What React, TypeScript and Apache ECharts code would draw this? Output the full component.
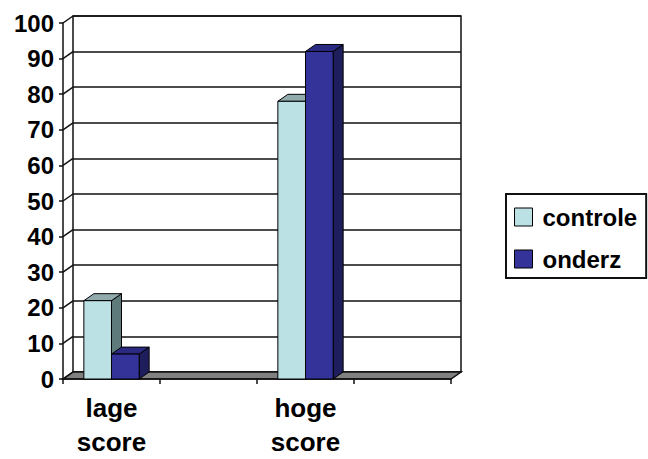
import React, { useEffect, useRef } from "react";
import * as echarts from "echarts";

// Categories along the floor (two empty slots, as in the sheet layout)
const categories = ["lage\nscore", "", "hoge\nscore", ""];
const seriesNames = ["controle", "onderz"];
const controleValues: (number | null)[] = [22, null, 78, null];
const onderzValues: (number | null)[] = [7, null, 92, null];
const yTicks = [0, 10, 20, 30, 40, 50, 60, 70, 80, 90, 100];

// depth offset of the pseudo-3D walls and columns
const DX = 10;
const DY = -7;

const FONT = "'Liberation Sans', Arial, Helvetica, sans-serif";

const palette = {
  controle: { front: "#BCE1E5", top: "#91ABAC", side: "#5F7A7B" },
  onderz: { front: "#333399", top: "#2A2A82", side: "#1E1E5C" },
};

function toPairs(values: (number | null)[]) {
  return values
    .map((v, i) => (v === null ? null : [i, v]))
    .filter((d) => d !== null) as number[][];
}

function columnRenderer(slot: number, colors: { front: string; top: string; side: string }) {
  return (params: any, api: any) => {
    const cat = api.value(0);
    const val = api.value(1);
    const top = api.coord([cat, val]);
    const base = api.coord([cat, 0]);
    const band = api.size([1, 0])[0];
    const w = band * 0.285;
    const x0 = top[0] - w + slot * w;
    const x1 = x0 + w;
    const ty = top[1];
    const by = base[1];
    const stroke = { stroke: "#000", lineWidth: 1 };
    return {
      type: "group",
      children: [
        {
          type: "polygon",
          shape: { points: [[x1, ty], [x1 + DX, ty + DY], [x1 + DX, by + DY], [x1, by]] },
          style: { fill: colors.side, ...stroke },
        },
        {
          type: "polygon",
          shape: { points: [[x0, ty], [x1, ty], [x1 + DX, ty + DY], [x0 + DX, ty + DY]] },
          style: { fill: colors.top, ...stroke },
        },
        {
          type: "rect",
          shape: { x: x0, y: ty, width: w, height: by - ty },
          style: { fill: colors.front, ...stroke },
        },
      ],
    };
  };
}

// floor slab and the diagonal ticks of the left wall
function frameRenderer(params: any, api: any) {
  const cs = params.coordSys;
  const left = cs.x;
  const right = cs.x + cs.width;
  const bottom = cs.y + cs.height;
  const children: any[] = [
    {
      type: "polygon",
      shape: {
        points: [
          [left, bottom],
          [right, bottom],
          [right + DX, bottom + DY],
          [left + DX, bottom + DY],
        ],
      },
      style: { fill: "#808080", stroke: "#111", lineWidth: 1.5 },
    },
  ];
  yTicks.forEach((v) => {
    const y = api.coord([0, v])[1];
    children.push({
      type: "line",
      shape: { x1: left, y1: y, x2: left + DX, y2: y + DY },
      style: { stroke: "#111", lineWidth: 1.5 },
    });
  });
  return { type: "group", children };
}

export default function App() {
  const ref = useRef<HTMLDivElement>(null);

  useEffect(() => {
    if (!ref.current) return;
    const chart = echarts.init(ref.current, undefined, { renderer: "svg" });
    chart.setOption({
      animation: false,
      backgroundColor: "#fff",
      grid: [
        { left: 63, right: 197, top: 23, bottom: 80, outerBoundsMode: "none" },
        {
          left: 73,
          right: 187,
          top: 16,
          bottom: 87,
          outerBoundsMode: "none",
          show: true,
          borderColor: "#111",
          borderWidth: 1.5,
          backgroundColor: "#fff",
        },
      ],
      xAxis: [
        {
          type: "category",
          gridIndex: 0,
          data: categories,
          axisLine: { show: true, lineStyle: { color: "#111", width: 1.5 } },
          axisTick: { show: true, length: 5, lineStyle: { color: "#111", width: 1.5 } },
          axisLabel: {
            margin: 12,
            interval: 0,
            color: "#000",
            fontFamily: FONT,
            fontWeight: "bold",
            fontSize: 26,
            lineHeight: 34,
          },
          z: 3,
        },
        {
          type: "category",
          gridIndex: 1,
          data: categories,
          show: false,
        },
      ],
      yAxis: [
        {
          type: "value",
          gridIndex: 0,
          min: 0,
          max: 100,
          interval: 10,
          axisLine: { show: true, lineStyle: { color: "#111", width: 1.5 } },
          axisTick: { show: true, length: 4, lineStyle: { color: "#111", width: 1.5 } },
          axisLabel: {
            margin: 9,
            color: "#000",
            fontFamily: FONT,
            fontWeight: "bold",
            fontSize: 24,
          },
          splitLine: { show: false },
        },
        {
          type: "value",
          gridIndex: 1,
          min: 0,
          max: 100,
          interval: 10,
          axisLine: { show: false },
          axisTick: { show: false },
          axisLabel: { show: false },
          splitLine: { show: true, lineStyle: { color: "#111", width: 1.5 } },
        },
      ],
      legend: {
        data: seriesNames,
        orient: "vertical",
        left: 506,
        top: 194,
        padding: [10, 9, 6, 8],
        itemWidth: 18,
        itemHeight: 18,
        itemGap: 16,
        icon: "rect",
        borderColor: "#111",
        borderWidth: 2,
        backgroundColor: "#fff",
        itemStyle: { borderColor: "#000", borderWidth: 1 },
        textStyle: {
          color: "#000",
          fontFamily: FONT,
          fontWeight: "bold",
          fontSize: 24,
          lineHeight: 26,
          padding: [0, 0, 0, 5],
        },
      },
      series: [
        {
          type: "custom",
          name: "frame",
          xAxisIndex: 0,
          yAxisIndex: 0,
          data: [[0, 0]],
          renderItem: frameRenderer,
          silent: true,
          z: 1,
        },
        {
          type: "custom",
          name: seriesNames[0],
          xAxisIndex: 0,
          yAxisIndex: 0,
          data: toPairs(controleValues),
          encode: { x: 0, y: 1 },
          itemStyle: { color: palette.controle.front },
          renderItem: columnRenderer(0, palette.controle),
          z: 4,
        },
        {
          type: "custom",
          name: seriesNames[1],
          xAxisIndex: 0,
          yAxisIndex: 0,
          data: toPairs(onderzValues),
          encode: { x: 0, y: 1 },
          itemStyle: { color: palette.onderz.front },
          renderItem: columnRenderer(1, palette.onderz),
          z: 5,
        },
      ],
    });
    return () => chart.dispose();
  }, []);

  return (
    <div
      ref={ref}
      style={{ position: "absolute", left: 0, top: 0, width: 648, height: 459 }}
    />
  );
}
